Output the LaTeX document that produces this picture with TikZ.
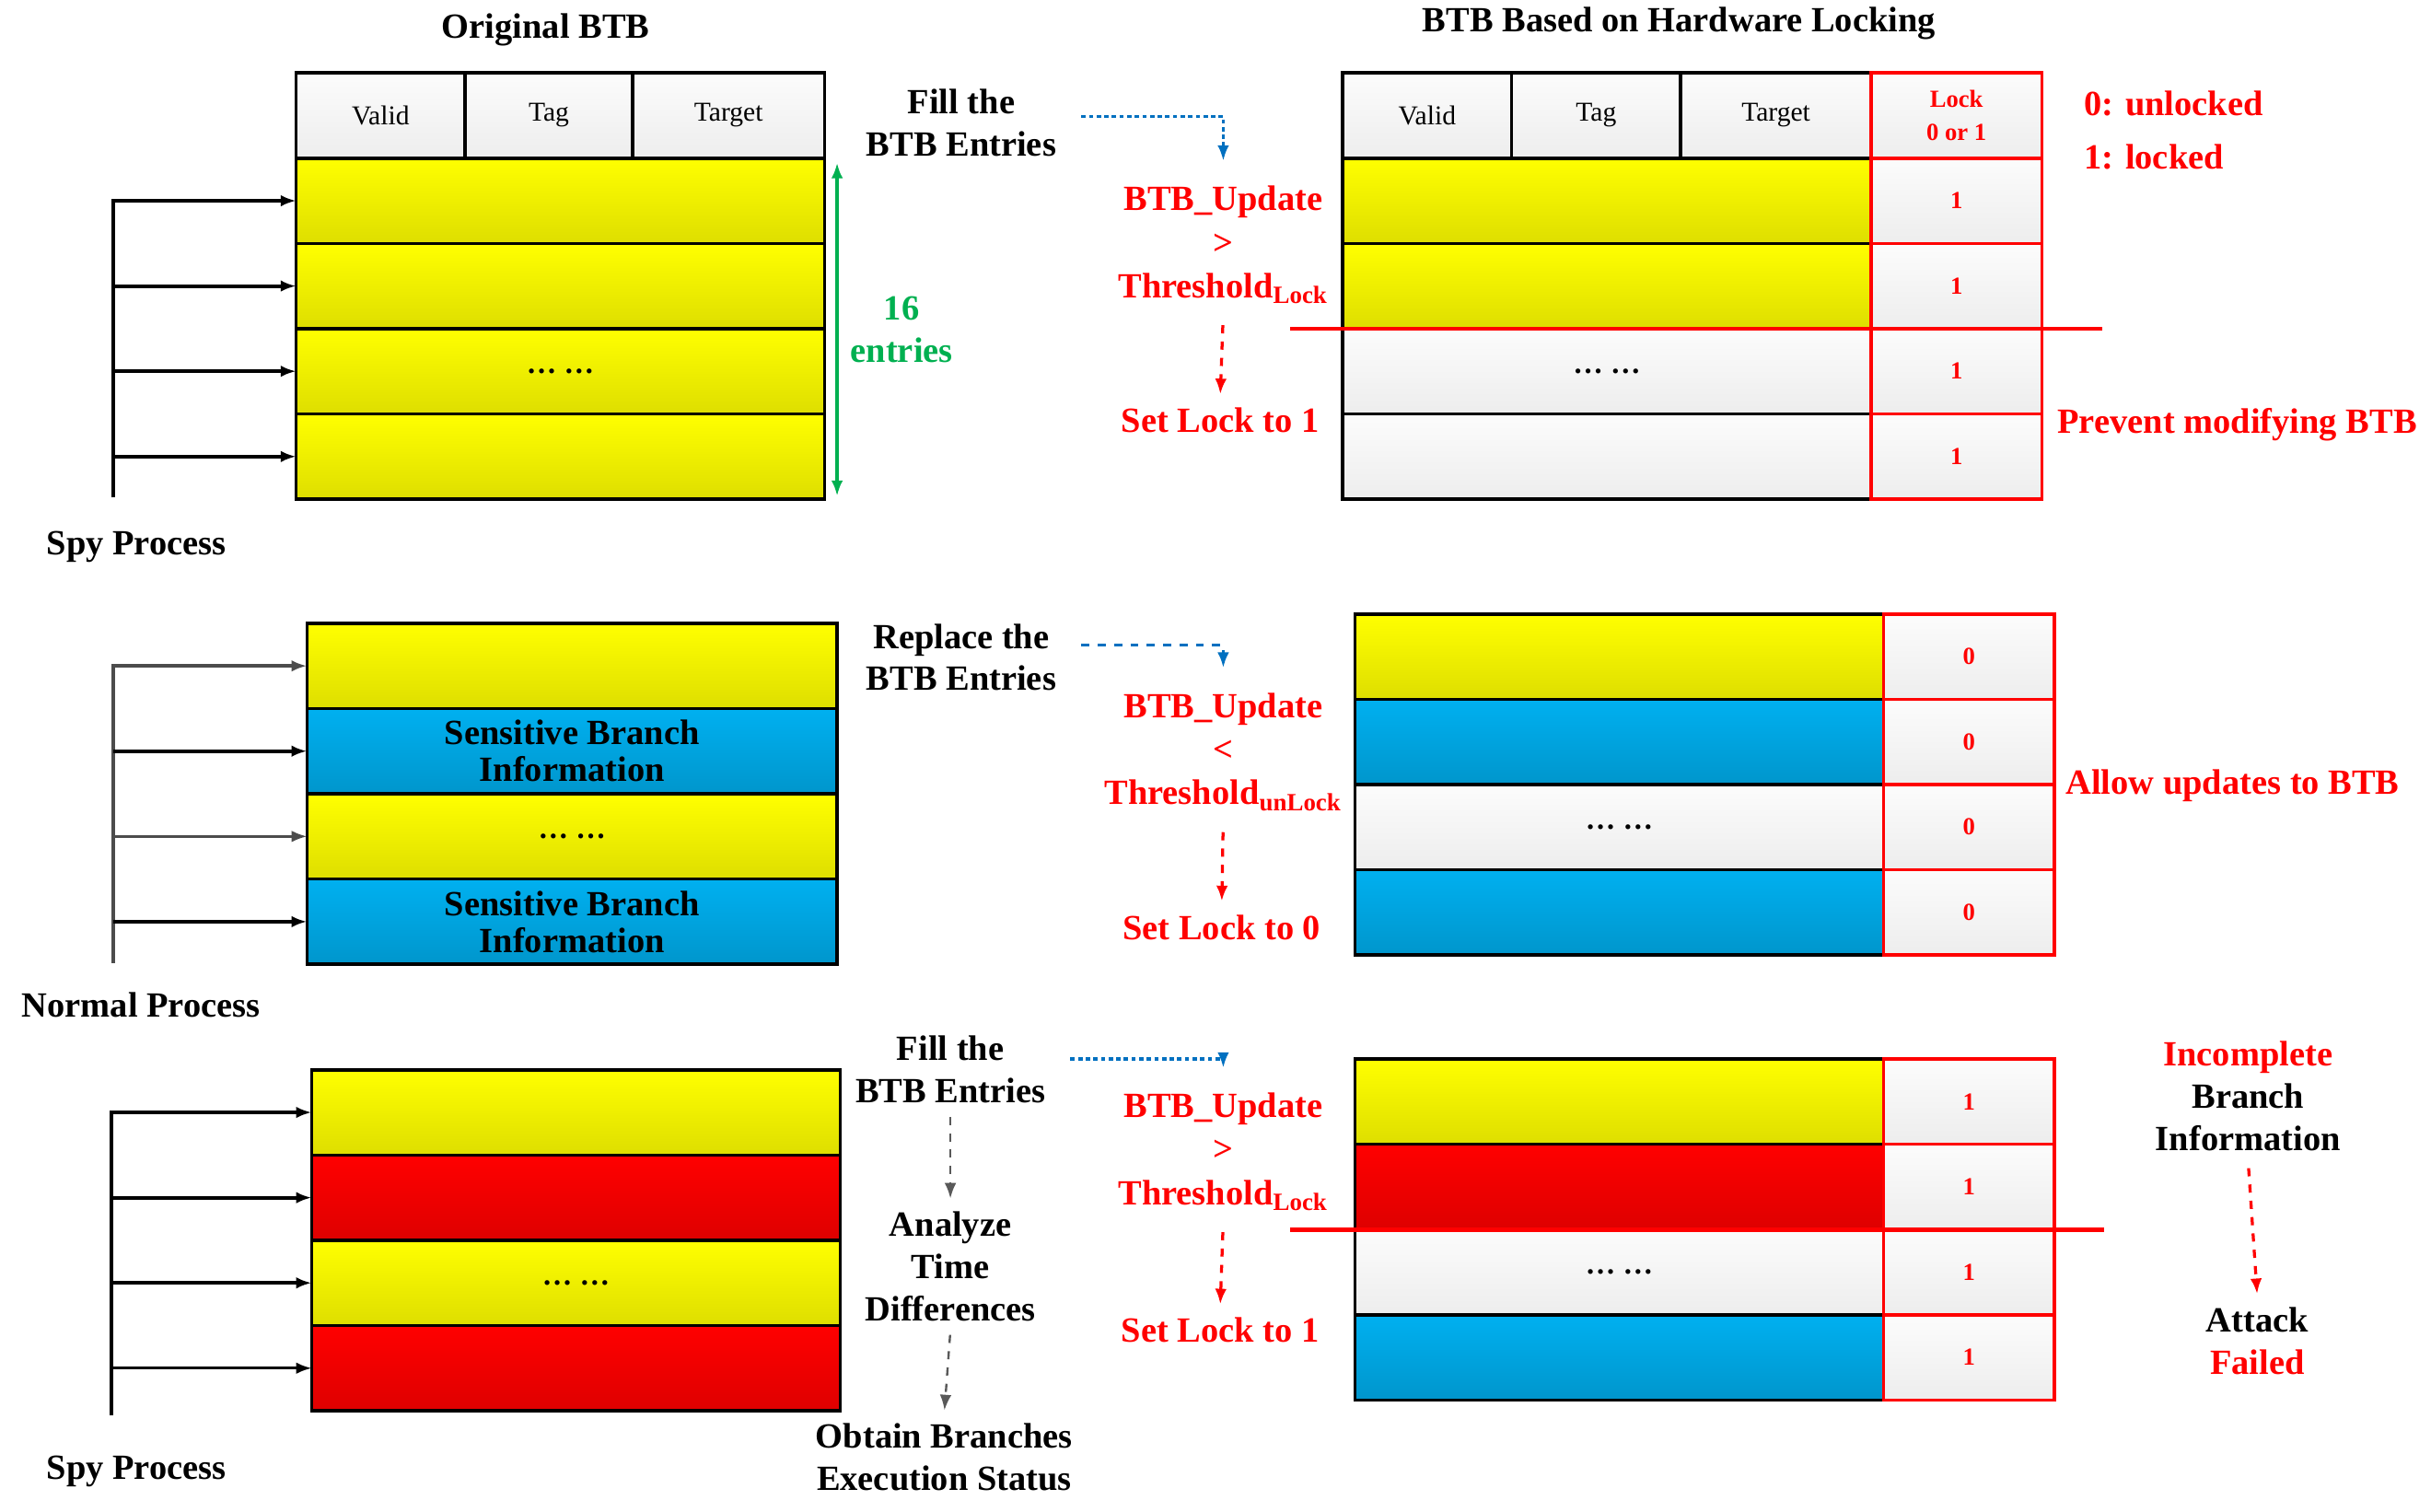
\documentclass[tikz,border=0pt]{standalone}
\usepackage{fontspec}
\setmainfont{Liberation Serif}
\usepackage{xcolor}
\usetikzlibrary{arrows.meta,positioning}

\definecolor{yelTop}{HTML}{FFFF00}
\definecolor{yelBot}{HTML}{DEDE00}
\definecolor{bluTop}{HTML}{00B0F0}
\definecolor{bluBot}{HTML}{0096CC}
\definecolor{redTop}{HTML}{FF0000}
\definecolor{redBot}{HTML}{DE0000}
\definecolor{whtTop}{HTML}{FCFCFC}
\definecolor{whtBot}{HTML}{EDEDED}
\definecolor{lockred}{HTML}{FF0000}
\definecolor{entgreen}{HTML}{00B050}
\definecolor{fillblue}{HTML}{0070C0}

\newcommand{\btbdots}{{\fontsize{11}{12}\selectfont\dots\ \dots}}

\begin{document}
\begin{tikzpicture}[
  >={Latex[length=2mm,width=1.5mm]},
  x=0.02cm,
  y=-0.02cm,
  cell/.style={draw=black,line width=1.2pt,inner sep=0pt,outer sep=0pt,minimum height=1.1cm,
    align=center,font=\fontsize{13}{13.5}\selectfont\bfseries},
  ycell/.style={cell,top color=yelTop,bottom color=yelBot},
  bcell/.style={cell,top color=bluTop,bottom color=bluBot},
  rcell/.style={cell,top color=redTop,bottom color=redBot},
  wcell/.style={cell,top color=whtTop,bottom color=whtBot},
  hcell/.style={wcell,font=\fontsize{10}{12}\selectfont},
  lcell/.style={wcell,draw=lockred,minimum width=2.2cm,text=lockred,font=\fontsize{9}{12}\selectfont\bfseries},
  rowl/.style={minimum width=6.82cm},
  lbl/.style={font=\fontsize{13}{15.5}\selectfont\bfseries,align=center},
  redlbl/.style={lbl,text=lockred},
  cond/.style={redlbl,font=\fontsize{13}{16}\selectfont\bfseries},
  proc/.style={->,line width=1.3pt},
  fetch/.style={->,draw=fillblue,line width=1.1pt,dash pattern=on 1.6pt off 1.2pt},
  chain/.style={->,draw=lockred,line width=1.1pt,dashed},
  probe/.style={->,draw=gray!70!black,line width=0.8pt,dashed},
  cut/.style={draw=lockred,line width=1.6pt}
]
  \useasboundingbox (0,0) rectangle (1568,975);

  % titles
  \node[lbl] (origtitle) at (352,19) {Original BTB};
  \node[lbl] (locktitle) at (1083,15) {BTB Based on Hardware Locking};

  % ---- first row: spy process fills the BTB
  \node[hcell,minimum width=2.18cm,anchor=north west] (l1valid) at (191,47) {Valid};
  \node[hcell,minimum width=2.16cm,right=0pt of l1valid] (l1tag) {Tag};
  \node[hcell,minimum width=2.48cm,right=0pt of l1tag] (l1target) {Target};
  \node[ycell,rowl,anchor=north west] (l1r1) at (l1valid.south west) {};
  \node[ycell,rowl,below=0pt of l1r1] (l1r2) {};
  \node[ycell,rowl,below=0pt of l1r2] (l1r3) {\btbdots};
  \node[ycell,rowl,below=0pt of l1r3] (l1r4) {};

  \coordinate (sp1bot) at (73,321);
  \draw[proc] (sp1bot) |- (l1r1.west);
  \draw[proc] (sp1bot |- l1r2.west) -- (l1r2.west);
  \draw[proc] (sp1bot |- l1r3.west) -- (l1r3.west);
  \draw[proc] (sp1bot |- l1r4.west) -- (l1r4.west);
  \node[lbl] (spy1) at (88,353) {Spy Process};

  \draw[<->,draw=entgreen,line width=1.2pt] ([xshift=0.16cm,yshift=-0.06cm]l1r1.north east)
    -- node[right=1pt,lbl,text=entgreen] {16\\entries} ([xshift=0.16cm,yshift=0.04cm]l1r4.south east);

  \node[lbl] (fill1) at (620,79) {Fill the\\BTB Entries};
  \node[cond] (upd1) at (789,158) {BTB\_Update\\>\\Threshold\textsubscript{Lock}};
  \node[redlbl] (set1) at (787,271) {Set Lock to 1};
  \draw[fetch,shorten <=0.2cm,shorten >=0.2cm] ([yshift=0.08cm]fill1.east) -| (upd1.north);
  \draw[chain,shorten <=0.15cm,shorten >=0.05cm] (upd1.south) -- (set1.north);

  \node[hcell,minimum width=2.18cm,anchor=north west] (r1valid) at (866,47) {Valid};
  \node[hcell,minimum width=2.18cm,right=0pt of r1valid] (r1tag) {Tag};
  \node[hcell,minimum width=2.46cm,right=0pt of r1tag] (r1target) {Target};
  \node[lcell,right=0pt of r1target] (r1lock0) {Lock\\0 or 1};
  \node[ycell,rowl,anchor=north west] (r1r1) at (r1valid.south west) {};
  \node[ycell,rowl,below=0pt of r1r1] (r1r2) {};
  \node[wcell,rowl,below=0pt of r1r2] (r1r3) {\btbdots};
  \node[wcell,rowl,below=0pt of r1r3] (r1r4) {};
  \node[lcell,right=0pt of r1r1] (r1lock1) {1};
  \node[lcell,right=0pt of r1r2] (r1lock2) {1};
  \node[lcell,right=0pt of r1r3] (r1lock3) {1};
  \node[lcell,right=0pt of r1r4] (r1lock4) {1};
  \draw[cut] ([xshift=-0.68cm]r1r2.south west) -- ([xshift=0.78cm]r1lock2.south east);

  \node[redlbl,anchor=west] (legend0) at (1338,67) {0: unlocked};
  \node[redlbl,anchor=west] (legend1) at (1338,101) {1: locked};
  \node[redlbl] (prevent) at (1443,274) {Prevent modifying BTB};

  % ---- second row: normal process replaces entries
  \node[ycell,minimum width=6.84cm,anchor=north west] (l2r1) at (198,402) {};
  \node[bcell,minimum width=6.84cm,below=0pt of l2r1] (l2r2) {Sensitive Branch\\Information};
  \node[ycell,minimum width=6.84cm,below=0pt of l2r2] (l2r3) {\btbdots};
  \node[bcell,minimum width=6.84cm,below=0pt of l2r3] (l2r4) {Sensitive Branch\\Information};

  \coordinate (np2bot) at (73,621);
  \draw[proc,draw=gray!60!black] (np2bot) |- (l2r1.west);
  \draw[proc] (np2bot |- l2r2.west) -- (l2r2.west);
  \draw[->,draw=gray!60!black,line width=0.8pt] (np2bot |- l2r3.west) -- (l2r3.west);
  \draw[proc] (np2bot |- l2r4.west) -- (l2r4.west);
  \node[lbl] (normal2) at (91,648) {Normal Process};

  \node[lbl] (replace2) at (620,424) {Replace the\\BTB Entries};
  \node[cond] (upd2) at (789,485) {BTB\_Update\\<\\Threshold\textsubscript{unLock}};
  \node[redlbl] (set2) at (788,598) {Set Lock to 0};
  \draw[fetch,dashed,shorten <=0.2cm,shorten >=0.2cm] ([yshift=0.16cm]replace2.east) -| (upd2.north);
  \draw[chain,shorten <=0.15cm,shorten >=0.05cm] (upd2.south) -- (set2.north);

  \node[ycell,rowl,anchor=north west] (r2r1) at (874,396) {};
  \node[bcell,rowl,below=0pt of r2r1] (r2r2) {};
  \node[wcell,rowl,below=0pt of r2r2] (r2r3) {\btbdots};
  \node[bcell,rowl,below=0pt of r2r3] (r2r4) {};
  \node[lcell,right=0pt of r2r1] (r2lock1) {0};
  \node[lcell,right=0pt of r2r2] (r2lock2) {0};
  \node[lcell,right=0pt of r2r3] (r2lock3) {0};
  \node[lcell,right=0pt of r2r4] (r2lock4) {0};
  \node[redlbl] (allow2) at (1440,507) {Allow updates to BTB};

  % ---- third row: spy process probes again
  \node[ycell,rowl,anchor=north west] (l3r1) at (201,690) {};
  \node[rcell,rowl,below=0pt of l3r1] (l3r2) {};
  \node[ycell,rowl,below=0pt of l3r2] (l3r3) {\btbdots};
  \node[rcell,rowl,below=0pt of l3r3] (l3r4) {};

  \coordinate (sp3bot) at (72,913);
  \draw[proc] (sp3bot) |- (l3r1.west);
  \draw[proc] (sp3bot |- l3r2.west) -- (l3r2.west);
  \draw[proc] (sp3bot |- l3r3.west) -- (l3r3.west);
  \draw[->,line width=0.9pt] (sp3bot |- l3r4.west) -- (l3r4.west);
  \node[lbl] (spy3) at (88,949) {Spy Process};

  \node[lbl] (fill3) at (613,690) {Fill the\\BTB Entries};
  \node[lbl] (analyze3) at (613,817) {Analyze\\Time\\Differences};
  \node[lbl] (obtain3) at (609,940) {Obtain Branches\\Execution Status};
  \draw[probe,shorten <=0.05cm,shorten >=0.05cm] (fill3.south) -- (analyze3.north);
  \draw[probe,shorten <=0.05cm,shorten >=0.05cm] (analyze3.south) -- (obtain3.north);

  \node[cond] (upd3) at (789,743) {BTB\_Update\\>\\Threshold\textsubscript{Lock}};
  \node[redlbl] (set3) at (787,858) {Set Lock to 1};
  \draw[fetch,shorten <=0.2cm,shorten >=0.2cm] ([yshift=0.14cm]fill3.east) -| (upd3.north);
  \draw[chain,shorten <=0.15cm,shorten >=0.05cm] (upd3.south) -- (set3.north);

  \node[ycell,rowl,anchor=north west] (r3r1) at (874,683) {};
  \node[rcell,rowl,below=0pt of r3r1] (r3r2) {};
  \node[wcell,rowl,below=0pt of r3r2] (r3r3) {\btbdots};
  \node[bcell,rowl,below=0pt of r3r3] (r3r4) {};
  \node[lcell,right=0pt of r3r1] (r3lock1) {1};
  \node[lcell,right=0pt of r3r2] (r3lock2) {1};
  \node[lcell,right=0pt of r3r3] (r3lock3) {1};
  \node[lcell,right=0pt of r3r4] (r3lock4) {1};
  \draw[cut] ([xshift=-0.84cm]r3r2.south west) -- ([xshift=0.64cm]r3lock2.south east);

  \node[lbl] (incompl3) at (1450,707) {\textcolor{lockred}{Incomplete}\\Branch\\Information};
  \node[lbl] (attack3) at (1456,865) {Attack\\\textcolor{lockred}{Failed}};
  \draw[chain,shorten <=0.1cm,shorten >=0.05cm] (incompl3.south) -- (attack3.north);
\end{tikzpicture}
\end{document}
